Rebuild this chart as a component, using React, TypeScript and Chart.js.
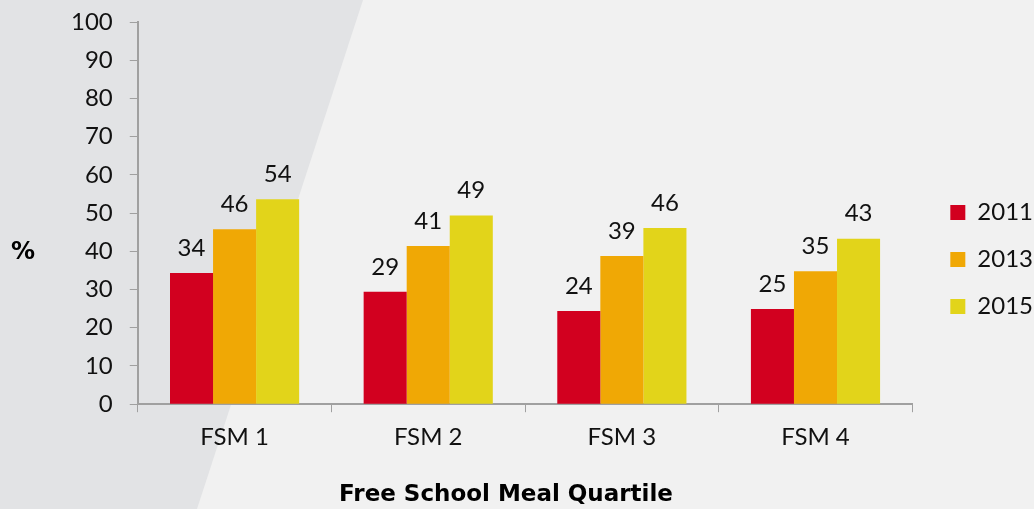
import React, { useEffect, useRef } from "react";
import { Chart, registerables } from "chart.js";
Chart.register(...registerables);

const categories = ["FSM 1", "FSM 2", "FSM 3", "FSM 4"];
const years = ["2011", "2013", "2015"];
const values2011 = [34.3, 29.4, 24.4, 24.9];
const values2013 = [45.8, 41.4, 38.8, 34.8];
const values2015 = [53.6, 49.4, 46.1, 43.3];
const colors = ["#d2001f", "#f0a805", "#e2d41a"];
const yTicks = [0, 10, 20, 30, 40, 50, 60, 70, 80, 90, 100];
const yTitle = "%";
const xTitle = "Free School Meal Quartile";

const FONT = "Lato, 'Open Sans', sans-serif";
const BOLD_FONT = "'DejaVu Sans', sans-serif";

const LEGEND_EXTRA_WIDTH = 6;
const LEGEND_SHIFT = 15;
const LEGEND_SHIFT_Y = 28;

const bgPlugin = {
  id: "bg",
  beforeDraw(chart: any) {
    const { ctx, width, height } = chart;
    ctx.save();
    ctx.fillStyle = "#f1f1f1";
    ctx.fillRect(0, 0, width, height);
    ctx.fillStyle = "#e2e3e5";
    ctx.beginPath();
    ctx.moveTo(0, 0);
    ctx.lineTo(363, 0);
    ctx.lineTo(197, height);
    ctx.lineTo(0, height);
    ctx.closePath();
    ctx.fill();
    ctx.restore();
  },
};

const legendTweak = {
  id: "legendTweak",
  afterInit(chart: any) {
    const legend = chart.legend;
    if (!legend || legend._tweaked) return;
    legend._tweaked = true;
    const origFit = legend.fit.bind(legend);
    legend.fit = function () {
      origFit();
      this.width += LEGEND_EXTRA_WIDTH;
    };
    const origDraw = legend._draw.bind(legend);
    legend._draw = function () {
      const l = this.left, t = this.top, b = this.bottom;
      this.left = l + LEGEND_SHIFT;
      this.top = t + LEGEND_SHIFT_Y;
      this.bottom = b + LEGEND_SHIFT_Y;
      origDraw();
      this.left = l;
      this.top = t;
      this.bottom = b;
    };
  },
};

const labelPlugin = {
  id: "valueLabels",
  afterDatasetsDraw(chart: any) {
    const { ctx, chartArea } = chart;
    ctx.save();
    ctx.fillStyle = "#111";
    ctx.font = `24px ${FONT}`;
    ctx.textAlign = "center";
    ctx.textBaseline = "bottom";
    chart.data.datasets.forEach((ds: any, i: number) => {
      const meta = chart.getDatasetMeta(i);
      meta.data.forEach((el: any, j: number) => {
        ctx.fillText(String(Math.round(ds.data[j])), el.x, el.y - 13);
      });
    });
    // upright y-axis title
    ctx.fillStyle = "#000";
    ctx.font = `bold 24px ${BOLD_FONT}`;
    ctx.textBaseline = "middle";
    ctx.fillText(yTitle, 23, chartArea.top + (chartArea.bottom - chartArea.top) * 0.605);
    // x-axis title
    ctx.font = `bold 23px ${BOLD_FONT}`;
    ctx.fillText(xTitle, 506, 495);
    ctx.restore();
  },
};

export default function App() {
  const ref = useRef<HTMLCanvasElement>(null);
  useEffect(() => {
    document.body.style.margin = "0";
    const series = [values2011, values2013, values2015];
    const chart = new Chart(ref.current!, {
      type: "bar",
      data: {
        labels: categories,
        datasets: years.map((y, i) => ({
          label: y,
          data: series[i],
          backgroundColor: colors[i],
          barPercentage: 1,
          categoryPercentage: 0.667,
        })),
      },
      options: {
        animation: false,
        responsive: false,
        layout: { padding: { top: 0, left: 54, right: 0, bottom: 46 } },
        plugins: {
          legend: {
            position: "right",
            labels: {
              boxWidth: 15,
              boxHeight: 15,
              padding: 23,
              color: "#111",
              font: { family: FONT, size: 24 },
            },
          },
          tooltip: { enabled: false },
        },
        scales: {
          x: {
            grid: { drawOnChartArea: false, drawTicks: true, tickLength: 8, color: "#a0a0a0" },
            border: { color: "#a0a0a0", width: 2 },
            ticks: { color: "#111", font: { family: FONT, size: 24 }, padding: 11 },
          },
          y: {
            min: 0,
            max: 100,
            afterBuildTicks: (axis: any) => {
              axis.ticks = yTicks.map((v) => ({ value: v }));
            },
            afterFit: (axis: any) => {
              axis.paddingTop = 22;
            },
            grid: { drawOnChartArea: false, drawTicks: true, tickLength: 8, color: "#a0a0a0" },
            border: { color: "#a0a0a0", width: 2 },
            ticks: { color: "#111", font: { family: FONT, size: 24 }, padding: 17 },
          },
        },
      },
      plugins: [bgPlugin, legendTweak, labelPlugin],
    } as any);
    return () => chart.destroy();
  }, []);
  return <canvas ref={ref} width={1034} height={509} style={{ display: "block" }} />;
}
